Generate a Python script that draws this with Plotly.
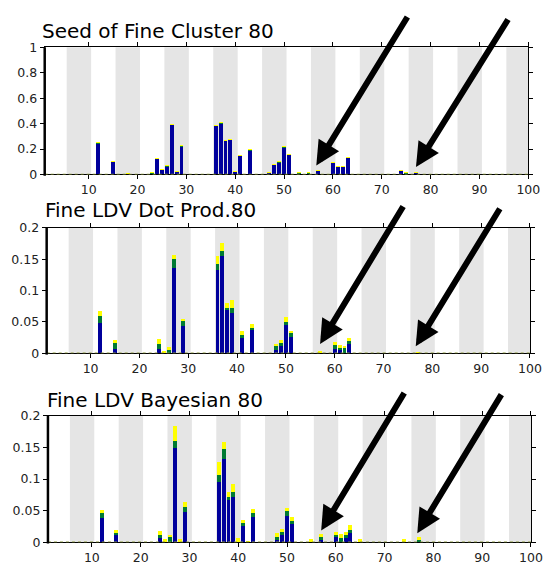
import plotly.graph_objects as go

# ---------------- data ----------------
TITLES = ["Seed of Fine Cluster 80", "Fine LDV Dot Prod.80", "Fine LDV Bayesian 80"]
X_TICKS = [10, 20, 30, 40, 50, 60, 70, 80, 90, 100]
Y_MAX = [1.0, 0.2, 0.2]
Y_TICKS_1 = [0, 0.2, 0.4, 0.6, 0.8, 1]
Y_TICKS_2 = [0, 0.05, 0.1, 0.15, 0.2]
Y_TICKS_3 = [0, 0.05, 0.1, 0.15, 0.2]

seed_x = [12, 15, 18, 23, 24, 25, 26, 27, 28, 29, 36, 37, 38, 39, 40, 41, 43, 47, 48, 49, 50, 51, 53, 55, 57, 60, 61, 62, 63, 74, 75, 77]
seed_blue = [0.245, 0.097, 0.003, 0.008, 0.120, 0.036, 0.064, 0.390, 0.021, 0.220, 0.380, 0.402, 0.265, 0.272, 0.021, 0.146, 0.188, 0.013, 0.074, 0.095, 0.213, 0.152, 0.008, 0.008, 0.026, 0.090, 0.057, 0.057, 0.128, 0.028, 0.008, 0.013]
seed_green = [0.003] * len(seed_x)
seed_yellow = [0.001] * len(seed_x)

dot_x = [12, 15, 24, 25, 26, 27, 29, 36, 37, 38, 39, 41, 43, 48, 49, 50, 51, 57, 60, 61, 62, 63, 77]
dot_blue = [0.048, 0.007, 0.007, 0.000, 0.001, 0.136, 0.043, 0.133, 0.155, 0.069, 0.065, 0.024, 0.039, 0.006, 0.011, 0.045, 0.026, 0.000, 0.007, 0.005, 0.000, 0.015, 0.000]
dot_green = [0.011, 0.009, 0.008, 0.000, 0.005, 0.014, 0.008, 0.009, 0.008, 0.004, 0.008, 0.006, 0.001, 0.005, 0.006, 0.005, 0.006, 0.000, 0.007, 0.004, 0.009, 0.006, 0.000]
dot_yellow = [0.008, 0.006, 0.008, 0.004, 0.004, 0.007, 0.004, 0.013, 0.013, 0.007, 0.012, 0.005, 0.006, 0.004, 0.004, 0.008, 0.004, 0.0045, 0.004, 0.005, 0.003, 0.003, 0.002]

bay_x = [12, 15, 24, 25, 26, 27, 28, 29, 36, 37, 38, 39, 40, 41, 42, 43, 48, 49, 50, 51, 55, 57, 60, 61, 62, 63, 65, 74, 77]
bay_blue = [0.038, 0.012, 0.006, 0.000, 0.000, 0.150, 0.000, 0.048, 0.095, 0.132, 0.067, 0.072, 0.000, 0.027, 0.000, 0.040, 0.003, 0.012, 0.041, 0.029, 0.000, 0.003, 0.009, 0.001, 0.007, 0.015, 0.000, 0.000, 0.000]
bay_green = [0.009, 0.003, 0.006, 0.000, 0.008, 0.010, 0.000, 0.008, 0.011, 0.015, 0.005, 0.008, 0.000, 0.003, 0.000, 0.006, 0.006, 0.005, 0.008, 0.005, 0.000, 0.005, 0.002, 0.006, 0.005, 0.005, 0.000, 0.000, 0.004]
bay_yellow = [0.004, 0.005, 0.006, 0.005, 0.004, 0.024, 0.005, 0.008, 0.021, 0.012, 0.008, 0.012, 0.007, 0.006, 0.0026, 0.006, 0.005, 0.004, 0.006, 0.006, 0.0057, 0.005, 0.006, 0.006, 0.005, 0.008, 0.0057, 0.0057, 0.005]

# arrow targets (x position in data units) for each panel
ARROW_X = [[56.6, 77.0], [57.0, 76.6], [57.0, 76.7]]

# ---------------- styling ----------------
W, H = 555, 569
BLUE, GREEN, YELLOW = "#00009C", "#007A33", "#FFFF00"
BAND = "#E5E5E5"
FONT = "DejaVu Sans"

# pixel geometry of each panel: (left, right, top, bottom)
PANELS = [(45.7, 540.0, 40.3, 171.0), (47.7, 541.7, 225.7, 354.7), (49.0, 542.7, 419.0, 548.7)]
TITLE_POS = [(40.7, 33.3), (44.3, 217.3), (45.7, 411.7)]
ARROW_TIP_FRAC = [[0.071, 0.059], [0.075, 0.057], [0.0925, 0.072]]
ARROW_OFF = [[(92, -150), (93, -149)], [(84, -139), (85, -139)], [(84, -139), (85, -140)]]

series = [
    (seed_x, seed_blue, seed_green, seed_yellow),
    (dot_x, dot_blue, dot_green, dot_yellow),
    (bay_x, bay_blue, bay_green, bay_yellow),
]
yticks = [Y_TICKS_1, Y_TICKS_2, Y_TICKS_3]

fig = go.Figure()
shapes = []
annotations = []
layout = {}

for i in range(3):
    n = "" if i == 0 else str(i + 1)
    xa, ya = "x" + n, "y" + n
    xs, b, g, yv = series[i]
    for vals, col in ((b, BLUE), (g, GREEN), (yv, YELLOW)):
        fig.add_trace(go.Bar(x=xs, y=vals, marker=dict(color=col, line=dict(width=0)),
                             xaxis=xa, yaxis=ya, showlegend=False, hoverinfo="skip"))
    l, r, t, bt = PANELS[i]
    layout["xaxis" + n] = dict(
        domain=[l / W, r / W], range=[1, 100], tickvals=X_TICKS, ticks="outside", ticklen=4,
        tickwidth=1, tickcolor="black", showline=True, linecolor="black", linewidth=1,
        mirror="ticks", showgrid=False, zeroline=False, anchor=ya, fixedrange=True,
        tickfont=dict(family=FONT, size=12.5, color="#222"))
    layout["yaxis" + n] = dict(
        domain=[1 - bt / H, 1 - t / H], range=[0, Y_MAX[i]], tickvals=yticks[i], ticks="outside",
        ticklen=4, tickwidth=1, tickcolor="black", showline=True, linecolor="black", linewidth=1,
        mirror="ticks", showgrid=False, zeroline=False, anchor=xa, fixedrange=True,
        tickfont=dict(family=FONT, size=12.5, color="#222"))
    # grey bands
    s = 5.5
    while s < 100:
        shapes.append(dict(type="rect", xref=xa, yref=ya + " domain", x0=s, x1=min(s + 5, 100),
                           y0=0, y1=1, fillcolor=BAND, line=dict(width=0), layer="below"))
        s += 10
    # dotted baseline
    shapes.append(dict(type="line", xref=xa + " domain", yref=ya, x0=0, x1=1, y0=0, y1=0,
                       line=dict(color="#8C9A3C", width=1.5, dash="dot")))
    # thick left axis
    shapes.append(dict(type="line", xref=xa + " domain", yref=ya + " domain", x0=0, x1=0,
                       y0=-0.01, y1=1, line=dict(color="black", width=2.5)))
    # title
    tx, ty = TITLE_POS[i]
    annotations.append(dict(text=TITLES[i], xref="paper", yref="paper", x=tx / W, y=1 - (ty - 9.5) / H,
                            xanchor="left", yanchor="middle", showarrow=False,
                            font=dict(family=FONT, size=20, color="black")))
    # arrows
    for k in range(2):
        ax, ay = ARROW_OFF[i][k]
        annotations.append(dict(text="", xref=xa, yref=ya + " domain", x=ARROW_X[i][k],
                                y=ARROW_TIP_FRAC[i][k], ax=ax, ay=ay, showarrow=True,
                                arrowhead=2, arrowsize=0.8, arrowwidth=6, arrowcolor="black",
                                standoff=0))

fig.update_layout(
    width=W, height=H, margin=dict(l=0, r=0, t=0, b=0),
    paper_bgcolor="white", plot_bgcolor="white",
    barmode="stack", bargap=0.2, showlegend=False,
    shapes=shapes, annotations=annotations, **layout)

fig.write_html("out.html", config={"displayModeBar": False},
               post_script="document.body.style.margin='0';document.body.style.overflow='hidden';")
